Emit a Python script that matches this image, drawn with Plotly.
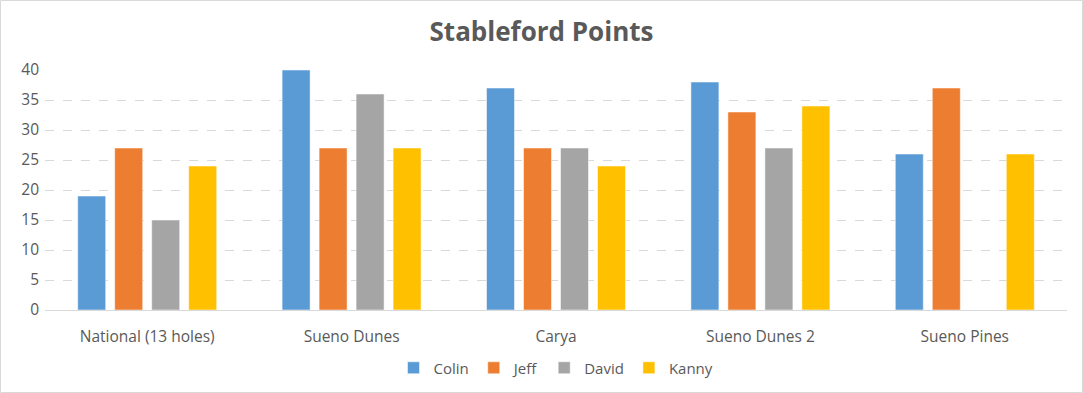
import plotly.graph_objects as go

categories = ["National (13 holes)", "Sueno Dunes", "Carya", "Sueno Dunes 2", "Sueno Pines"]
colin = [19, 40, 37, 38, 26]
jeff = [27, 27, 27, 33, 37]
david = [15, 36, 27, 27, None]
kanny = [24, 27, 24, 34, 26]

series = [("Colin", colin, "#5B9BD5"), ("Jeff", jeff, "#ED7D31"),
          ("David", david, "#A5A5A5"), ("Kanny", kanny, "#FFC000")]

W, H = 1083, 393
ml, mr, mt, mb = 45, 16, 70, 83

fig = go.Figure()
for name, vals, col in series:
    fig.add_trace(go.Bar(x=categories, y=vals, name=name,
                         marker=dict(color=col, line=dict(color="rgba(255,255,255,0.5)", width=1))))

pw = W - ml - mr
ph = H - mt - mb
fig.update_layout(
    width=W, height=H,
    margin=dict(l=ml, r=mr, t=mt, b=mb, autoexpand=False),
    paper_bgcolor="white", plot_bgcolor="white",
    font=dict(family="Open Sans, Liberation Sans, sans-serif", color="#595959", size=16),
    title=dict(text="<b>Stableford Points</b>", x=0.5, xanchor="center", y=1 - 32 / H, yanchor="middle",
               font=dict(size=26, color="#595959")),
    barmode="group", bargap=0.276, bargroupgap=0.243,
    xaxis=dict(showgrid=False, showline=True, linecolor="#D9D9D9", linewidth=1, ticks="",
               tickfont=dict(size=15.5, color="#595959"), ticklabelstandoff=12, automargin=False),
    yaxis=dict(range=[0, 40], dtick=5, showgrid=True, gridcolor="#D9D9D9", griddash="dash", gridwidth=1,
               zeroline=False, ticks="", tickfont=dict(size=15.5, color="#595959"), ticklabelstandoff=5,
               automargin=False),
    legend=dict(orientation="h", x=0.5, xanchor="center", y=-(368 - 310) / ph, yanchor="middle",
                font=dict(size=15, color="#595959"), itemwidth=30, traceorder="normal"),
    showlegend=True,
)
fig.add_shape(type="rect", xref="paper", yref="paper",
              x0=-(ml - 0.5) / pw, x1=(pw + mr - 0.5) / pw,
              y0=-(mb - 0.5) / ph, y1=(ph + mt - 0.5) / ph,
              line=dict(color="#D9D9D9", width=1), fillcolor="rgba(0,0,0,0)", layer="below")
fig.write_html("out.html", config={"displayModeBar": False},
               post_script=("document.documentElement.style.margin='0';"
                            "document.documentElement.style.overflow='hidden';"
                            "document.body.style.margin='0';document.body.style.padding='0';"
                            "document.body.style.overflow='hidden';"))
